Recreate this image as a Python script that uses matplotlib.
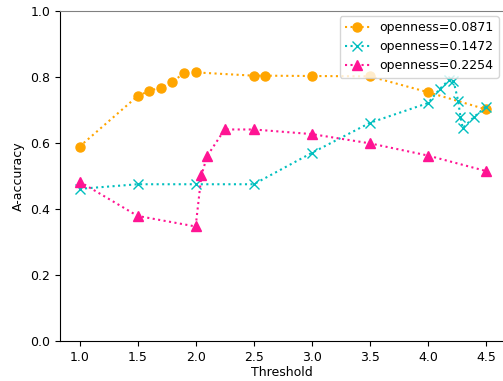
import numpy as np
import matplotlib
matplotlib.use('Agg')
import matplotlib.pyplot as plt

plt.rcParams['font.size'] = 9

# threshold / accuracy values
x_0871 = [1.0, 1.5, 1.6, 1.7, 1.8, 1.9, 2.0, 2.5, 2.6, 3.0, 3.5, 4.0, 4.5]
y_0871 = [0.589, 0.742, 0.758, 0.768, 0.784, 0.813, 0.814, 0.804, 0.804, 0.803, 0.802, 0.754, 0.702]

x_1472 = [1.0, 1.5, 2.0, 2.5, 3.0, 3.5, 4.0, 4.1, 4.18, 4.22, 4.26, 4.28, 4.3, 4.4, 4.5]
y_1472 = [0.461, 0.475, 0.475, 0.475, 0.570, 0.661, 0.721, 0.763, 0.791, 0.789, 0.728, 0.680, 0.645, 0.680, 0.710]

x_2254 = [1.0, 1.5, 2.0, 2.05, 2.1, 2.25, 2.5, 3.0, 3.5, 4.0, 4.5]
y_2254 = [0.483, 0.379, 0.347, 0.503, 0.561, 0.641, 0.641, 0.627, 0.599, 0.562, 0.515]

fig = plt.figure(figsize=(5.03, 3.81), dpi=100)
ax = fig.add_axes([60 / 503, 40 / 381, 444 / 503, 330 / 381])

ax.plot(x_0871, y_0871, ':', color='orange', marker='o', markersize=6.5, label='openness=0.0871')
ax.plot(x_1472, y_1472, ':', color='c', marker='x', markersize=6.5, label='openness=0.1472')
ax.plot(x_2254, y_2254, ':', color='deeppink', marker='^', markersize=6.5, label='openness=0.2254')

ax.set_xlim(0.832, 4.655)
ax.set_ylim(0, 1.0)
ax.set_xticks(np.arange(1.0, 4.51, 0.5))
ax.set_yticks(np.arange(0, 1.01, 0.2))
ax.tick_params(length=3.5)
ax.set_xlabel('Threshold', labelpad=2)
ax.set_ylabel('A-accuracy')
ax.spines['top'].set_color('gray')
ax.spines['right'].set_visible(False)
ax.legend(loc='upper right', borderaxespad=0.4)

fig.savefig('out.png', dpi=100)
